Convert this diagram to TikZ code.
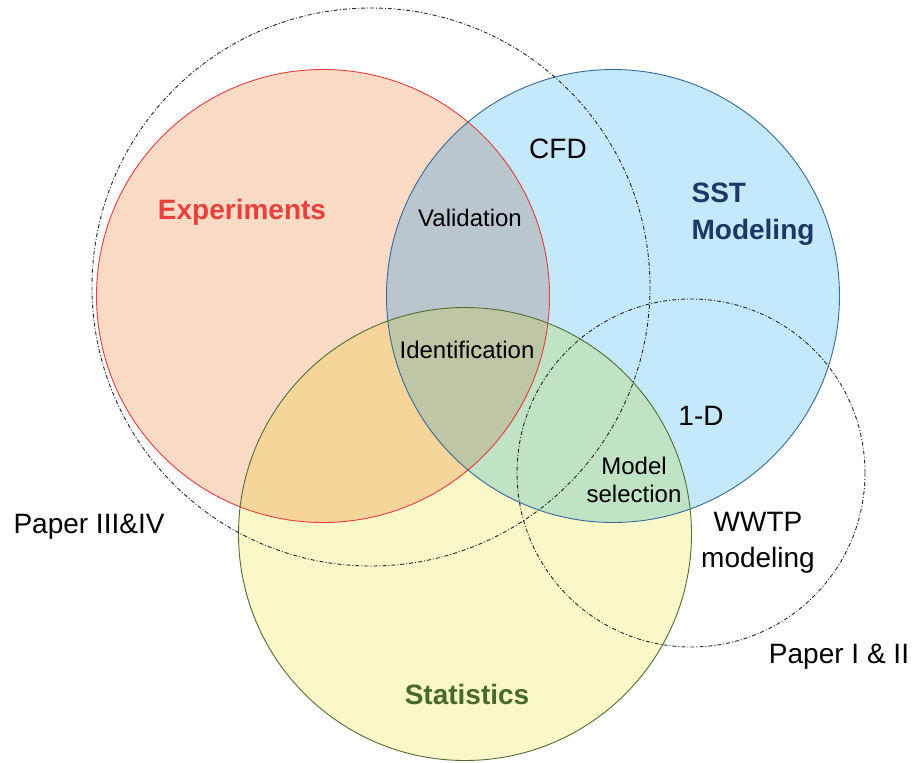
\documentclass[tikz,border=0pt]{standalone}
\usepackage{fontspec}
\setmainfont{Liberation Sans}
\begin{document}
\begin{tikzpicture}[x=1pt,y=-1pt,
  big/.style={font=\fontsize{28}{36}\selectfont},
  bigb/.style={font=\fontsize{28}{37}\selectfont\bfseries},
  small/.style={font=\fontsize{24}{28}\selectfont},
  dashdot/.style={draw=black!85,line width=0.9pt,dash pattern=on 4pt off 2pt on 1pt off 2pt}]
\definecolor{Rf}{RGB}{251,218,198}
\definecolor{Bf}{RGB}{195,233,250}
\definecolor{Yf}{RGB}{250,248,200}
\definecolor{RBf}{RGB}{186,198,206}
\definecolor{RYf}{RGB}{246,213,155}
\definecolor{BYf}{RGB}{191,227,196}
\definecolor{RBYf}{RGB}{190,198,165}
\definecolor{Rs}{RGB}{228,60,60}
\definecolor{Bs}{RGB}{55,105,155}
\definecolor{Ys}{RGB}{80,110,50}
\definecolor{ExpC}{RGB}{232,64,60}
\definecolor{SSTC}{RGB}{30,55,100}
\definecolor{StatC}{RGB}{72,104,48}
\useasboundingbox (0,0) rectangle (917,762);
\coordinate (cR) at (323,296);
\coordinate (cB) at (613,296);
\coordinate (cY) at (465,534);
\coordinate (cD1) at (371,287);
\coordinate (cD2) at (691,473);
\def\rr{226.5}
% base fills
\fill[Rf] (cR) circle (\rr);
\fill[Bf] (cB) circle (\rr);
\fill[Yf] (cY) circle (\rr);
\begin{scope}
  \clip (cB) circle (\rr);
  \fill[BYf] (cY) circle (\rr);
\end{scope}
\begin{scope}
  \clip (cR) circle (\rr);
  \fill[RBf] (cB) circle (\rr);
  \fill[RYf] (cY) circle (\rr);
  \clip (cB) circle (\rr);
  \fill[RBYf] (cY) circle (\rr);
\end{scope}
% outlines
\draw[Rs,line width=0.9pt] (cR) circle (\rr);
\draw[Bs,line width=0.9pt] (cB) circle (\rr);
\draw[Ys,line width=0.9pt] (cY) circle (\rr);
\draw[dashdot] (cD1) circle (279);
\draw[dashdot] (cD2) circle (174);
% labels
\node[bigb,text=ExpC] (exp) at (242,212) {Experiments};
\node[bigb,text=SSTC,align=left] (sst) at (753,214) {SST\\Modeling};
\node[bigb,text=StatC] (stat) at (467,694) {Statistics};
\node[big] (cfd) at (558,149) {CFD};
\node[small] (val) at (470,218) {Validation};
\node[small] (ident) at (467,350) {Identification};
\node[big] (oned) at (701,416) {1-D};
\node[small,align=center] (msel) at (634,480) {Model\\selection};
\node[big,align=center] (wwtp) at (758,543) {WWTP\\modeling};
\node[big] (p34) at (89,527) {Paper III\&IV};
\node[big] (p12) at (839,657) {Paper I \& II};
\end{tikzpicture}
\end{document}
